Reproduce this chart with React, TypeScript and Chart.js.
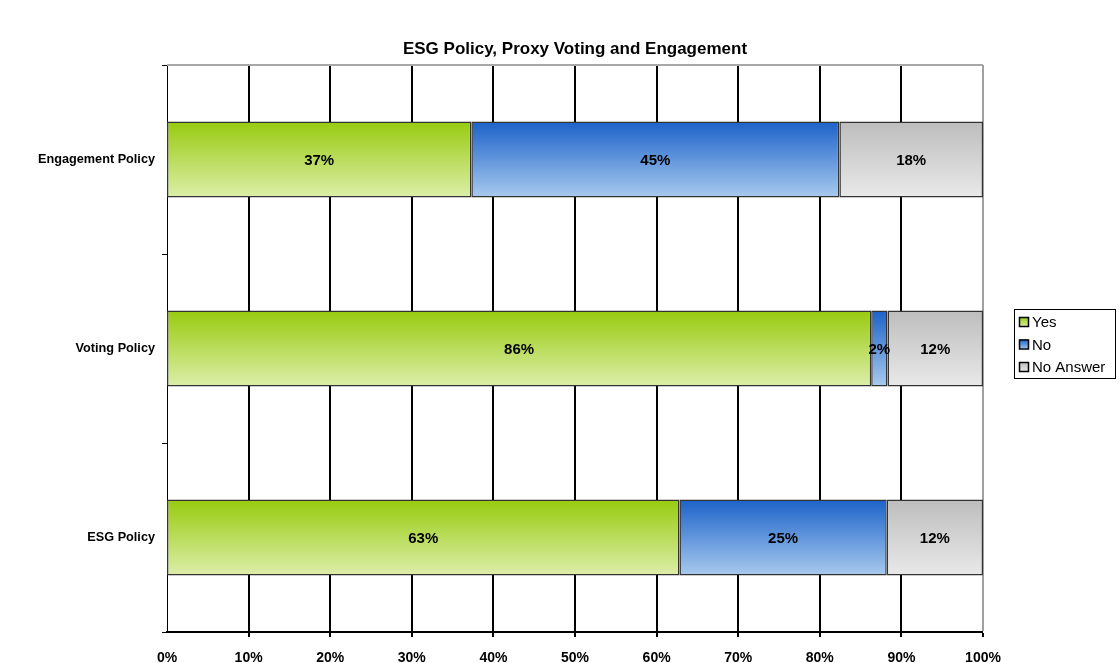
import React, { useEffect, useRef } from "react";
import { Chart, registerables } from "chart.js";

Chart.register(...registerables);

const TITLE = "ESG Policy, Proxy Voting and Engagement";
const categories = ["Engagement Policy", "Voting Policy", "ESG Policy"];
const seriesNames = ["Yes", "No", "No Answer"];
const yesValues = [37.3, 86.3, 62.8];
const noValues = [45.1, 2.0, 25.4];
const noAnswerValues = [17.6, 11.7, 11.8];
const yesLabels = ["37%", "86%", "63%"];
const noLabels = ["45%", "2%", "25%"];
const noAnswerLabels = ["18%", "12%", "12%"];
const xTicks = [0, 10, 20, 30, 40, 50, 60, 70, 80, 90, 100];

const gradStops = [
  ["#97cb0e", "#ddeeaa"],
  ["#1c62c9", "#a8caee"],
  ["#bdbdbd", "#e9e9e9"],
];

const FONT = "Arial, 'Liberation Sans', sans-serif";

export default function App() {
  const ref = useRef<HTMLCanvasElement | null>(null);
  useEffect(() => {
    const canvas = ref.current!;
    const labelSets = [yesLabels, noLabels, noAnswerLabels];

    const makeBg = (si: number) => (ctx: any) => {
      const chart = ctx.chart;
      const y = chart.scales && chart.scales.y;
      if (!chart.chartArea || !y || ctx.dataIndex === undefined) return gradStops[si][0];
      const c = y.getPixelForValue(ctx.dataIndex);
      const band = (chart.chartArea.bottom - chart.chartArea.top) / categories.length;
      const h = band * 0.402;
      const g = chart.ctx.createLinearGradient(0, c - h / 2, 0, c + h / 2);
      g.addColorStop(0, gradStops[si][0]);
      g.addColorStop(1, gradStops[si][1]);
      return g;
    };

    const extras = {
      id: "extras",
      beforeDatasetsDraw(chart: any) {
        const { ctx, chartArea } = chart;
        ctx.save();
        ctx.strokeStyle = "#a8a8a8";
        ctx.lineWidth = 2;
        ctx.beginPath();
        ctx.moveTo(chartArea.left, chartArea.top);
        ctx.lineTo(chartArea.right, chartArea.top);
        ctx.stroke();
        ctx.restore();
      },
      afterDraw(chart: any) {
        const { ctx, chartArea } = chart;
        ctx.save();
        // title
        ctx.fillStyle = "#000";
        ctx.font = `bold 17px ${FONT}`;
        ctx.textAlign = "center";
        ctx.textBaseline = "middle";
        ctx.fillText(TITLE, (chartArea.left + chartArea.right) / 2, 49);
        // data labels
        ctx.font = `bold 15px ${FONT}`;
        chart.data.datasets.forEach((ds: any, si: number) => {
          const meta = chart.getDatasetMeta(si);
          meta.data.forEach((bar: any, i: number) => {
            const p = bar.getProps(["x", "y", "base"], true);
            const cx = (p.x + p.base) / 2;
            ctx.fillText(labelSets[si][i], cx, p.y + 1);
          });
        });
        // legend
        const lx = 1014, ly = 309, lw = 101, lh = 69;
        ctx.fillStyle = "#fff";
        ctx.fillRect(lx, ly, lw, lh);
        ctx.strokeStyle = "#000";
        ctx.lineWidth = 1;
        ctx.strokeRect(lx + 0.5, ly + 0.5, lw, lh);
        ctx.font = `15px ${FONT}`;
        ctx.textAlign = "left";
        seriesNames.forEach((n, i) => {
          const cy = 322 + i * 22.5;
          const g = ctx.createLinearGradient(0, cy - 5, 0, cy + 5);
          g.addColorStop(0, gradStops[i][0]);
          g.addColorStop(1, gradStops[i][1]);
          ctx.fillStyle = g;
          ctx.fillRect(1019, cy - 5, 9, 9);
          ctx.strokeStyle = "#000";
          ctx.lineWidth = 1.5;
          ctx.strokeRect(1019.5, cy - 4.5, 9, 9);
          ctx.fillStyle = "#000";
          ctx.fillText(n, 1032, cy + 1);
        });
        ctx.restore();
      },
    };

    const chart = new Chart(canvas, {
      type: "bar",
      data: {
        labels: categories,
        datasets: [yesValues, noValues, noAnswerValues].map((vals, si) => ({
          label: seriesNames[si],
          data: vals,
          backgroundColor: makeBg(si),
          borderColor: "#333",
          borderWidth: 1.5,
          borderSkipped: false,
          barPercentage: 0.402,
          categoryPercentage: 1,
        })),
      },
      options: {
        indexAxis: "y",
        animation: false,
        responsive: false,
        maintainAspectRatio: false,
        layout: { padding: { left: 0, right: 136, top: 65, bottom: 0 } },
        plugins: {
          legend: { display: false },
          title: { display: false },
          tooltip: { enabled: false },
        },
        scales: {
          x: {
            stacked: true,
            min: 0,
            max: 100,
            afterBuildTicks: (s: any) => {
              s.ticks = xTicks.map((v) => ({ value: v }));
            },
            afterFit: (s: any) => {
              s.height = 31;
            },
            ticks: {
              callback: (v: any) => `${v}%`,
              color: "#000",
              font: { family: FONT, size: 14, weight: "bold" },
              padding: 13,
              maxRotation: 0,
            },
            grid: {
              color: (c: any) => (c.tick && c.tick.value === 100 ? "#a0a0a0" : "#000"),
              lineWidth: (c: any) => (c.tick && c.tick.value === 0 ? 0 : 2),
              tickColor: "#000",
              tickLength: 5,
              drawOnChartArea: true,
            },
            border: { display: true, color: "#000", width: 2 },
          },
          y: {
            stacked: true,
            afterFit: (s: any) => {
              s.width = 167;
            },
            ticks: {
              color: "#000",
              font: { family: FONT, size: 12.7, weight: "bold" },
              padding: 7,
            },
            grid: {
              offset: true,
              drawOnChartArea: false,
              tickColor: "#000",
              tickLength: 5,
              lineWidth: 1,
            },
            border: { display: true, color: "#000", width: 1 },
          },
        },
      },
      plugins: [extras],
    });
    return () => chart.destroy();
  }, []);

  return (
    <div style={{ position: "fixed", left: 0, top: 0, width: 1119, height: 663, background: "#fff" }}>
      <canvas ref={ref} width={1119} height={663} style={{ width: 1119, height: 663 }} />
    </div>
  );
}
